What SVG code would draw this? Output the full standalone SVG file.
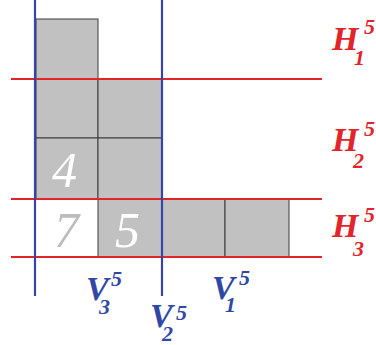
<svg xmlns="http://www.w3.org/2000/svg" width="376" height="345" viewBox="0 0 376 345">
<style>
.cell{fill:#c1c1c1;stroke:#3a3a3a;stroke-width:1}
.hl{stroke:#e3242b;stroke-width:2.2;fill:none}
.vl{stroke:#3646a8;stroke-width:2.2;fill:none}
</style>
<rect width="376" height="345" fill="#fff"/>
<g id="cells">
<rect class="cell" x="36" y="19" width="62" height="60"/>
<rect class="cell" x="36" y="79" width="62" height="59"/>
<rect class="cell" x="98" y="79" width="64" height="59"/>
<rect class="cell" x="36" y="138" width="62" height="61"/>
<rect class="cell" x="98" y="138" width="64" height="61"/>
<rect x="36" y="199" width="62" height="58" fill="#fff"/>
<rect class="cell" x="98" y="199" width="64" height="58"/>
<rect class="cell" x="162" y="199" width="63" height="58"/>
<rect class="cell" x="225" y="199" width="64" height="58"/>
</g>
<g id="numbers">
<text x="52" y="187" style="font-family:'Liberation Serif';font-style:italic;font-size:50px" fill="#ffffff">4</text>
<text x="54" y="247" style="font-family:'Liberation Serif';font-style:italic;font-size:50px" fill="#bcbcbc">7</text>
<text x="115" y="247" style="font-family:'Liberation Serif';font-style:italic;font-size:50px" fill="#ffffff">5</text>
</g>
<g id="lines">
<line class="hl" x1="11" y1="79" x2="322" y2="79"/>
<line class="hl" x1="11" y1="199" x2="322" y2="199"/>
<line class="hl" x1="11" y1="257" x2="322" y2="257"/>
<line class="vl" x1="35" y1="0" x2="35" y2="296"/>
<line class="vl" x1="162" y1="0" x2="162" y2="296"/>
</g>
<g id="labels-h" fill="#e3242b">
<g id="H1">
<text x="332" y="50" style="font-family:'Liberation Serif';font-weight:bold;font-style:italic;font-size:34px">H</text>
<text x="354" y="65" style="font-family:'Liberation Serif';font-weight:bold;font-style:italic;font-size:22px">1</text>
<text x="364" y="34" style="font-family:'Liberation Serif';font-weight:bold;font-style:italic;font-size:22px">5</text>
</g>
<g id="H2">
<text x="332" y="151" style="font-family:'Liberation Serif';font-weight:bold;font-style:italic;font-size:34px">H</text>
<text x="353" y="168" style="font-family:'Liberation Serif';font-weight:bold;font-style:italic;font-size:22px">2</text>
<text x="364" y="136" style="font-family:'Liberation Serif';font-weight:bold;font-style:italic;font-size:22px">5</text>
</g>
<g id="H3">
<text x="332" y="237" style="font-family:'Liberation Serif';font-weight:bold;font-style:italic;font-size:34px">H</text>
<text x="353" y="256" style="font-family:'Liberation Serif';font-weight:bold;font-style:italic;font-size:22px">3</text>
<text x="364" y="222" style="font-family:'Liberation Serif';font-weight:bold;font-style:italic;font-size:22px">5</text>
</g>
</g>
<g id="labels-v" fill="#2f48a6">
<g id="V3">
<text x="86" y="300" style="font-family:'Liberation Serif';font-weight:bold;font-style:italic;font-size:34px">V</text>
<text x="99" y="314" style="font-family:'Liberation Serif';font-weight:bold;font-style:italic;font-size:22px">3</text>
<text x="111" y="286" style="font-family:'Liberation Serif';font-weight:bold;font-style:italic;font-size:22px">5</text>
</g>
<g id="V2">
<text x="150" y="327" style="font-family:'Liberation Serif';font-weight:bold;font-style:italic;font-size:34px">V</text>
<text x="162" y="341" style="font-family:'Liberation Serif';font-weight:bold;font-style:italic;font-size:22px">2</text>
<text x="176" y="320" style="font-family:'Liberation Serif';font-weight:bold;font-style:italic;font-size:22px">5</text>
</g>
<g id="V1">
<text x="212" y="299" style="font-family:'Liberation Serif';font-weight:bold;font-style:italic;font-size:34px">V</text>
<text x="225" y="312" style="font-family:'Liberation Serif';font-weight:bold;font-style:italic;font-size:22px">1</text>
<text x="239" y="285" style="font-family:'Liberation Serif';font-weight:bold;font-style:italic;font-size:22px">5</text>
</g>
</g>
</svg>
